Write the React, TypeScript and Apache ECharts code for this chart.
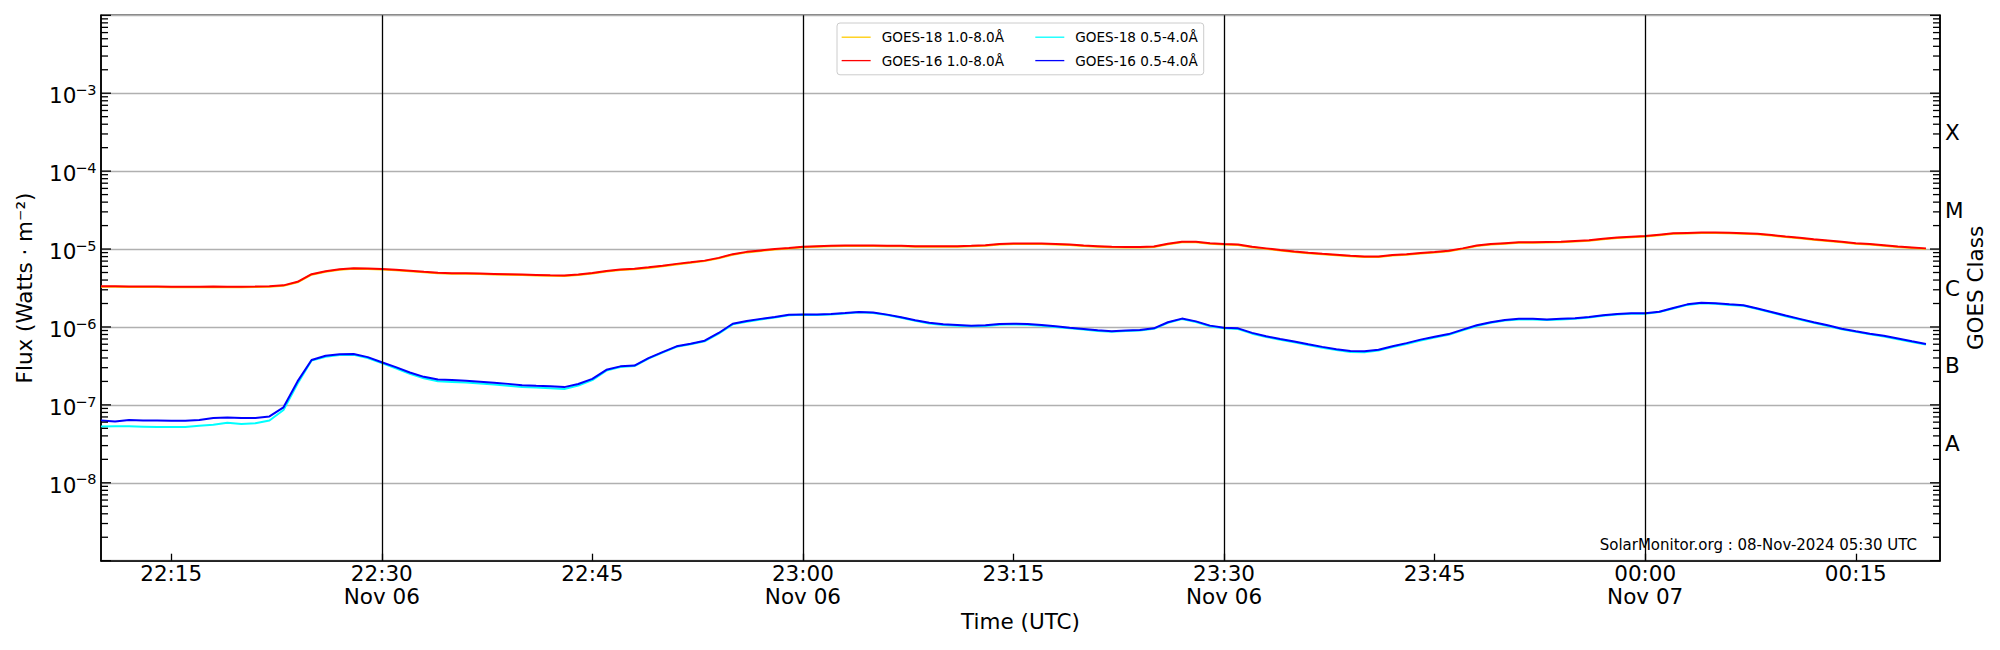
import React, { useEffect, useRef } from "react";
import * as echarts from "echarts";

const FONT = "DejaVu Sans";
const FS = 21.5;
const SUP_FS = 14.5;

// one-minute samples starting 2024-11-06 22:10 UTC
const START_UTC = Date.UTC(2024, 10, 6, 22, 10, 0);
const END_UTC = Date.UTC(2024, 10, 7, 0, 21, 0);
const SAMPLE_STEP_MS = 60 * 1000;

const NAME_18_LONG = "GOES-18 1.0-8.0Å";
const NAME_16_LONG = "GOES-16 1.0-8.0Å";
const NAME_18_SHORT = "GOES-18 0.5-4.0Å";
const NAME_16_SHORT = "GOES-16 0.5-4.0Å";

const goes18Long = [
  3.27e-6, 3.27e-6, 3.26e-6, 3.26e-6, 3.25e-6, 3.24e-6, 3.23e-6, 3.24e-6, 3.25e-6, 3.24e-6,
  3.24e-6, 3.25e-6, 3.27e-6, 3.37e-6, 3.74e-6, 4.68e-6, 5.12e-6, 5.42e-6, 5.57e-6, 5.54e-6,
  5.47e-6, 5.34e-6, 5.20e-6, 5.02e-6, 4.88e-6, 4.83e-6, 4.81e-6, 4.78e-6, 4.73e-6, 4.68e-6,
  4.63e-6, 4.58e-6, 4.53e-6, 4.51e-6, 4.63e-6, 4.85e-6, 5.14e-6, 5.37e-6, 5.52e-6, 5.73e-6,
  6.01e-6, 6.35e-6, 6.65e-6, 7.00e-6, 7.59e-6, 8.47e-6, 9.06e-6, 9.46e-6, 9.85e-6, 1.015e-5,
  1.054e-5, 1.074e-5, 1.084e-5, 1.093e-5, 1.093e-5, 1.093e-5, 1.088e-5, 1.084e-5, 1.074e-5, 1.069e-5,
  1.069e-5, 1.074e-5, 1.084e-5, 1.103e-5, 1.143e-5, 1.162e-5, 1.162e-5, 1.162e-5, 1.143e-5, 1.123e-5,
  1.093e-5, 1.074e-5, 1.054e-5, 1.044e-5, 1.044e-5, 1.064e-5, 1.152e-5, 1.221e-5, 1.221e-5, 1.172e-5,
  1.143e-5, 1.123e-5, 1.054e-5, 1.005e-5, 9.55e-6, 9.16e-6, 8.84e-6, 8.57e-6, 8.33e-6, 8.08e-6,
  7.93e-6, 7.93e-6, 8.25e-6, 8.47e-6, 8.77e-6, 9.01e-6, 9.36e-6, 1.005e-5, 1.093e-5, 1.143e-5,
  1.172e-5, 1.202e-5, 1.202e-5, 1.212e-5, 1.221e-5, 1.251e-5, 1.281e-5, 1.340e-5, 1.389e-5, 1.418e-5,
  1.448e-5, 1.507e-5, 1.566e-5, 1.586e-5, 1.606e-5, 1.606e-5, 1.596e-5, 1.576e-5, 1.546e-5, 1.487e-5,
  1.428e-5, 1.379e-5, 1.320e-5, 1.271e-5, 1.221e-5, 1.172e-5, 1.143e-5, 1.103e-5, 1.064e-5, 1.034e-5, 1.005e-5,
];

const goes16Long = [
  3.32e-6, 3.32e-6, 3.31e-6, 3.31e-6, 3.30e-6, 3.29e-6, 3.28e-6, 3.29e-6, 3.30e-6, 3.29e-6,
  3.29e-6, 3.30e-6, 3.32e-6, 3.42e-6, 3.80e-6, 4.75e-6, 5.20e-6, 5.50e-6, 5.65e-6, 5.62e-6,
  5.55e-6, 5.42e-6, 5.28e-6, 5.10e-6, 4.95e-6, 4.90e-6, 4.88e-6, 4.85e-6, 4.80e-6, 4.75e-6,
  4.70e-6, 4.65e-6, 4.60e-6, 4.58e-6, 4.70e-6, 4.92e-6, 5.22e-6, 5.45e-6, 5.60e-6, 5.82e-6,
  6.10e-6, 6.45e-6, 6.75e-6, 7.10e-6, 7.70e-6, 8.60e-6, 9.20e-6, 9.60e-6, 1.00e-5, 1.03e-5,
  1.07e-5, 1.09e-5, 1.10e-5, 1.11e-5, 1.11e-5, 1.11e-5, 1.105e-5, 1.10e-5, 1.09e-5, 1.085e-5,
  1.085e-5, 1.09e-5, 1.10e-5, 1.12e-5, 1.16e-5, 1.18e-5, 1.18e-5, 1.18e-5, 1.16e-5, 1.14e-5,
  1.11e-5, 1.09e-5, 1.07e-5, 1.06e-5, 1.06e-5, 1.08e-5, 1.17e-5, 1.24e-5, 1.24e-5, 1.19e-5,
  1.16e-5, 1.14e-5, 1.07e-5, 1.02e-5, 9.70e-6, 9.30e-6, 8.97e-6, 8.70e-6, 8.46e-6, 8.20e-6,
  8.05e-6, 8.05e-6, 8.38e-6, 8.60e-6, 8.90e-6, 9.15e-6, 9.50e-6, 1.02e-5, 1.11e-5, 1.16e-5,
  1.19e-5, 1.22e-5, 1.22e-5, 1.23e-5, 1.24e-5, 1.27e-5, 1.30e-5, 1.36e-5, 1.41e-5, 1.44e-5,
  1.47e-5, 1.53e-5, 1.59e-5, 1.61e-5, 1.63e-5, 1.63e-5, 1.62e-5, 1.60e-5, 1.57e-5, 1.51e-5,
  1.45e-5, 1.40e-5, 1.34e-5, 1.29e-5, 1.24e-5, 1.19e-5, 1.16e-5, 1.12e-5, 1.08e-5, 1.05e-5, 1.02e-5,
];

const goes18Short = [
  5.27e-8, 5.30e-8, 5.30e-8, 5.25e-8, 5.20e-8, 5.20e-8, 5.20e-8, 5.40e-8, 5.55e-8, 5.90e-8,
  5.70e-8, 5.80e-8, 6.30e-8, 8.60e-8, 1.87e-7, 3.70e-7, 4.15e-7, 4.35e-7, 4.40e-7, 4.00e-7,
  3.45e-7, 2.95e-7, 2.50e-7, 2.20e-7, 2.01e-7, 1.97e-7, 1.93e-7, 1.88e-7, 1.82e-7, 1.76e-7,
  1.70e-7, 1.67e-7, 1.64e-7, 1.60e-7, 1.77e-7, 2.08e-7, 2.75e-7, 3.06e-7, 3.15e-7, 3.92e-7,
  4.68e-7, 5.55e-7, 6.00e-7, 6.55e-7, 8.20e-7, 1.08e-6, 1.17e-6, 1.25e-6, 1.32e-6, 1.41e-6,
  1.43e-6, 1.42e-6, 1.45e-6, 1.49e-6, 1.54e-6, 1.51e-6, 1.42e-6, 1.31e-6, 1.20e-6, 1.11e-6,
  1.06e-6, 1.04e-6, 1.02e-6, 1.03e-6, 1.07e-6, 1.08e-6, 1.07e-6, 1.04e-6, 1.00e-6, 9.60e-7,
  9.25e-7, 8.90e-7, 8.65e-7, 8.85e-7, 9.00e-7, 9.45e-7, 1.13e-6, 1.26e-6, 1.16e-6, 1.02e-6,
  9.60e-7, 9.40e-7, 8.20e-7, 7.45e-7, 6.85e-7, 6.35e-7, 5.85e-7, 5.42e-7, 5.05e-7, 4.78e-7,
  4.75e-7, 4.98e-7, 5.52e-7, 6.06e-7, 6.72e-7, 7.33e-7, 7.92e-7, 9.05e-7, 1.03e-6, 1.13e-6,
  1.21e-6, 1.25e-6, 1.25e-6, 1.23e-6, 1.25e-6, 1.27e-6, 1.32e-6, 1.39e-6, 1.45e-6, 1.48e-6,
  1.48e-6, 1.55e-6, 1.73e-6, 1.92e-6, 2.01e-6, 1.98e-6, 1.92e-6, 1.87e-6, 1.70e-6, 1.53e-6,
  1.37e-6, 1.25e-6, 1.13e-6, 1.03e-6, 9.35e-7, 8.65e-7, 8.05e-7, 7.55e-7, 6.95e-7, 6.42e-7, 5.93e-7,
];

const goes16Short = [
  6.30e-8, 6.10e-8, 6.40e-8, 6.30e-8, 6.30e-8, 6.25e-8, 6.25e-8, 6.40e-8, 6.80e-8, 6.90e-8,
  6.80e-8, 6.80e-8, 7.10e-8, 9.30e-8, 2.00e-7, 3.76e-7, 4.27e-7, 4.45e-7, 4.50e-7, 4.10e-7,
  3.53e-7, 3.05e-7, 2.60e-7, 2.29e-7, 2.12e-7, 2.08e-7, 2.04e-7, 1.98e-7, 1.92e-7, 1.86e-7,
  1.79e-7, 1.76e-7, 1.74e-7, 1.69e-7, 1.85e-7, 2.16e-7, 2.82e-7, 3.12e-7, 3.20e-7, 3.98e-7,
  4.76e-7, 5.64e-7, 6.10e-7, 6.67e-7, 8.37e-7, 1.10e-6, 1.19e-6, 1.27e-6, 1.34e-6, 1.43e-6,
  1.45e-6, 1.44e-6, 1.47e-6, 1.51e-6, 1.56e-6, 1.53e-6, 1.44e-6, 1.33e-6, 1.22e-6, 1.13e-6,
  1.08e-6, 1.06e-6, 1.04e-6, 1.05e-6, 1.09e-6, 1.10e-6, 1.09e-6, 1.06e-6, 1.02e-6, 9.80e-7,
  9.43e-7, 9.06e-7, 8.80e-7, 9.00e-7, 9.15e-7, 9.60e-7, 1.15e-6, 1.28e-6, 1.18e-6, 1.04e-6,
  9.80e-7, 9.60e-7, 8.40e-7, 7.60e-7, 7.00e-7, 6.50e-7, 6.00e-7, 5.55e-7, 5.17e-7, 4.90e-7,
  4.87e-7, 5.10e-7, 5.65e-7, 6.20e-7, 6.88e-7, 7.50e-7, 8.10e-7, 9.24e-7, 1.05e-6, 1.15e-6,
  1.23e-6, 1.27e-6, 1.27e-6, 1.25e-6, 1.27e-6, 1.29e-6, 1.34e-6, 1.41e-6, 1.47e-6, 1.50e-6,
  1.50e-6, 1.57e-6, 1.75e-6, 1.95e-6, 2.04e-6, 2.01e-6, 1.95e-6, 1.90e-6, 1.73e-6, 1.56e-6,
  1.40e-6, 1.27e-6, 1.15e-6, 1.05e-6, 9.50e-7, 8.80e-7, 8.20e-7, 7.70e-7, 7.10e-7, 6.55e-7, 6.05e-7,
];

const xTickTimes = [
  Date.UTC(2024, 10, 6, 22, 15),
  Date.UTC(2024, 10, 6, 22, 30),
  Date.UTC(2024, 10, 6, 22, 45),
  Date.UTC(2024, 10, 6, 23, 0),
  Date.UTC(2024, 10, 6, 23, 15),
  Date.UTC(2024, 10, 6, 23, 30),
  Date.UTC(2024, 10, 6, 23, 45),
  Date.UTC(2024, 10, 7, 0, 0),
  Date.UTC(2024, 10, 7, 0, 15),
];
const xTickLabels = [
  "22:15", "22:30\nNov 06", "22:45", "23:00\nNov 06", "23:15",
  "23:30\nNov 06", "23:45", "00:00\nNov 07", "00:15",
];
const dayLineTimes = [
  Date.UTC(2024, 10, 6, 22, 30),
  Date.UTC(2024, 10, 6, 23, 0),
  Date.UTC(2024, 10, 6, 23, 30),
  Date.UTC(2024, 10, 7, 0, 0),
];

// decade tick labels: base "10" plus superscript exponent
const yLabelExponents = [-8, -7, -6, -5, -4, -3];
const yTickExpTexts = ["−8", "−7", "−6", "−5", "−4", "−3"];
const decadeExponents = [-9, -8, -7, -6, -5, -4, -3, -2];
const minorMantissas = [2, 3, 4, 5, 6, 7, 8, 9];
const classExponents = [-7.5, -6.5, -5.5, -4.5, -3.5];
const classLetters = ["A", "B", "C", "M", "X"];

const Y_TITLE = "Flux (Watts · m⁻²)";
const CREDIT = "SolarMonitor.org : 08-Nov-2024 05:30 UTC";

const COLOR_18_LONG = "#ffcc00";
const COLOR_16_LONG = "#ff0000";
const COLOR_18_SHORT = "#00ffff";
const COLOR_16_SHORT = "#0000ff";

function toPairs(values: number[]) {
  return values.map((v, i) => [START_UTC + i * SAMPLE_STEP_MS, v]);
}

const minorTickValues: number[] = [];
decadeExponents.slice(0, -1).forEach((e) => {
  minorMantissas.forEach((m) => minorTickValues.push(m * Math.pow(10, e)));
});
const decadeTickValues = decadeExponents.map((e) => Math.pow(10, e));
const yLabelValues = yLabelExponents.map((e) => Math.pow(10, e));

function tickSeries(name: string, values: number[], len: number) {
  return {
    name,
    type: "custom",
    xAxisIndex: 0,
    yAxisIndex: 0,
    silent: true,
    clip: false,
    z: 6,
    data: values.map((v) => [START_UTC, v]),
    renderItem: (params: any, api: any) => {
      const cs = params.coordSys;
      const y = api.coord([api.value(0), api.value(1)])[1];
      const st = { stroke: "#000", lineWidth: 1.3 };
      return {
        type: "group",
        children: [
          { type: "line", shape: { x1: cs.x, y1: y, x2: cs.x + len, y2: y }, style: st },
          { type: "line", shape: { x1: cs.x + cs.width - len, y1: y, x2: cs.x + cs.width, y2: y }, style: st },
        ],
      };
    },
  };
}

// left decade labels "10^n", placed with the log axis' own scale
const SUP_WIDTH = 1.474 * SUP_FS; // DejaVu: minus 0.838em + digit 0.636em
const yLabelSeries = {
  name: "decade labels",
  type: "custom",
  xAxisIndex: 0,
  yAxisIndex: 0,
  silent: true,
  clip: false,
  z: 6,
  data: yLabelValues.map((v) => [START_UTC, v]),
  renderItem: (params: any, api: any) => {
    const p = api.coord([api.value(0), api.value(1)]);
    const i = params.dataIndex;
    const right = p[0] - 4.5;
    return {
      type: "group",
      children: [
        {
          type: "text",
          style: {
            text: yTickExpTexts[i],
            x: right,
            y: p[1] - 3.3,
            align: "right",
            verticalAlign: "middle",
            font: `${SUP_FS}px "${FONT}"`,
            fill: "#000",
          },
        },
        {
          type: "text",
          style: {
            text: "10",
            x: right - SUP_WIDTH + 1.3,
            y: p[1] + 2.6,
            align: "right",
            verticalAlign: "middle",
            font: `${FS}px "${FONT}"`,
            fill: "#000",
          },
        },
      ],
    };
  },
};

export default function App() {
  const ref = useRef<HTMLDivElement>(null);

  useEffect(() => {
    if (!ref.current) return;
    const chart = echarts.init(ref.current, undefined, { renderer: "svg" });

    const lineSeries = (name: string, values: number[], color: string, extra: any = {}) => ({
      name,
      type: "line",
      xAxisIndex: 0,
      yAxisIndex: 0,
      data: toPairs(values),
      showSymbol: false,
      symbol: "none",
      smooth: false,
      lineStyle: { color, width: 2 },
      itemStyle: { color },
      emphasis: { disabled: true },
      z: 3,
      ...extra,
    });

    const option: any = {
      animation: false,
      backgroundColor: "#ffffff",
      textStyle: { fontFamily: FONT },
      grid: {
        left: 101,
        top: 15.3,
        width: 1839,
        height: 545.4,
        show: true,
        borderColor: "#000",
        borderWidth: 1.5,
        backgroundColor: "transparent",
        containLabel: false,
        outerBoundsMode: "none",
      },
      legend: {
        left: 837,
        top: 23,
        width: 362,
        padding: [5, 6, 5, 4],
        itemGap: 5,
        itemWidth: 29,
        itemHeight: 14,
        backgroundColor: "#ffffff",
        borderColor: "#cccccc",
        borderWidth: 1,
        borderRadius: 3,
        itemStyle: { opacity: 0 },
        lineStyle: { width: 1.3, opacity: 1 },
        selectedMode: false,
        data: [
          { name: NAME_18_LONG, textStyle: { width: 148 } },
          { name: NAME_18_SHORT },
          { name: NAME_16_LONG, textStyle: { width: 148 } },
          { name: NAME_16_SHORT },
        ],
        textStyle: {
          fontFamily: FONT,
          fontSize: 13.6,
          color: "#000",
          lineHeight: 18.4,
          padding: [0, 0, 0, 6],
        },
      },
      xAxis: [
        {
          type: "value",
          min: START_UTC,
          max: END_UTC,
          name: "Time (UTC)",
          nameLocation: "middle",
          nameGap: 50,
          nameMoveOverlap: false,
          nameTextStyle: { fontFamily: FONT, fontSize: FS, color: "#000" },
          axisLine: { show: true, onZero: false, lineStyle: { color: "#000", width: 1.5 } },
          axisTick: {
            show: true,
            inside: true,
            length: 7,
            customValues: xTickTimes,
            lineStyle: { color: "#000", width: 1.3 },
          },
          axisLabel: {
            show: true,
            customValues: xTickTimes,
            formatter: (v: number) => {
              const i = xTickTimes.indexOf(v);
              return i >= 0 ? xTickLabels[i] : "";
            },
            fontFamily: FONT,
            fontSize: FS,
            lineHeight: 23.5,
            color: "#000",
            margin: 1,
            hideOverlap: false,
          },
          splitLine: { show: false },
        },
      ],
      yAxis: [
        { type: "log", logBase: 10, min: 1e-9, max: 1e-2, show: false },
        {
          type: "value",
          min: -9,
          max: -2,
          interval: 1,
          position: "left",
          name: Y_TITLE,
          nameLocation: "middle",
          nameGap: 66,
          nameMoveOverlap: false,
          nameTextStyle: { fontFamily: FONT, fontSize: FS, color: "#000" },
          axisLine: { show: true, onZero: false, lineStyle: { color: "#000", width: 1.5 } },
          axisTick: { show: false },
          axisLabel: { show: false },
          splitLine: { show: true, lineStyle: { color: "#b0b0b0", width: 1.3 } },
        },
        {
          type: "value",
          min: -9,
          max: -2,
          interval: 0.5,
          position: "right",
          name: "GOES Class",
          nameLocation: "middle",
          nameGap: 24,
          nameMoveOverlap: false,
          nameTextStyle: { fontFamily: FONT, fontSize: FS, color: "#000" },
          axisLine: { show: true, onZero: false, lineStyle: { color: "#000", width: 1.5 } },
          axisTick: { show: false },
          axisLabel: {
            show: true,
            margin: 5,
            fontFamily: FONT,
            fontSize: FS,
            color: "#000",
            padding: [3, 0, 0, 0],
            formatter: (v: number) => {
              const i = classExponents.findIndex((c) => Math.abs(c - v) < 1e-9);
              return i >= 0 ? classLetters[i] : "";
            },
          },
          splitLine: { show: false },
        },
      ],
      graphic: [
        {
          type: "text",
          x: 1917,
          y: 544.7,
          z: 1,
          style: {
            text: CREDIT,
            fontFamily: FONT,
            fontSize: 15,
            fill: "#000",
            align: "right",
            verticalAlign: "middle",
          },
        },
      ],
      series: [
        lineSeries(NAME_18_LONG, goes18Long, COLOR_18_LONG, {
          markLine: {
            silent: true,
            symbol: ["none", "none"],
            label: { show: false },
            emphasis: { disabled: true },
            lineStyle: { color: "#000", width: 1.3, type: "solid" },
            data: dayLineTimes.map((t) => ({ xAxis: t })),
          },
        }),
        lineSeries(NAME_18_SHORT, goes18Short, COLOR_18_SHORT),
        lineSeries(NAME_16_LONG, goes16Long, COLOR_16_LONG),
        lineSeries(NAME_16_SHORT, goes16Short, COLOR_16_SHORT),
        tickSeries("minor ticks", minorTickValues, 7),
        tickSeries("decade ticks", decadeTickValues, 10),
        yLabelSeries,
      ],
    };

    chart.setOption(option);
    return () => chart.dispose();
  }, []);

  return (
    <div
      ref={ref}
      style={{ position: "absolute", left: 0, top: 0, width: 2000, height: 650, background: "#fff" }}
    />
  );
}
